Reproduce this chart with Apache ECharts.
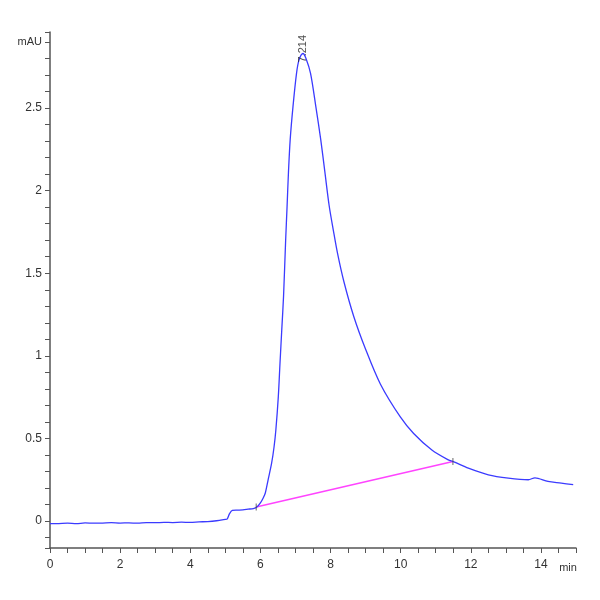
<!DOCTYPE html>
<html>
<head>
<meta charset="utf-8">
<script src="https://cdn.jsdelivr.net/npm/echarts@6/dist/echarts.min.js"></script>
<style>html,body{margin:0;padding:0;background:#fff}#c{width:600px;height:600px}</style>
</head>
<body>
<div id="c"></div>
<script>
// time (min)
const times = [0, 0.25, 0.5, 0.75, 1.0, 1.25, 1.5, 1.75, 2.0, 2.25, 2.5, 2.75, 3.0, 3.25, 3.5, 3.75, 4.0, 4.25, 4.5, 4.75,
  5.0, 5.05, 5.12, 5.2, 5.35, 5.5, 5.65, 5.8, 5.9, 6.0, 6.08, 6.14, 6.22, 6.32, 6.39, 6.44, 6.51, 6.56, 6.61, 6.66, 6.72, 6.76, 6.80, 6.85, 6.93, 7.03, 7.1, 7.214, 7.3, 7.43, 7.58, 7.72, 7.84, 7.96, 8.08, 8.2, 8.38, 8.66, 9.0, 9.42, 9.99, 10.37, 10.89, 11.36, 11.5, 11.93, 12.5, 13.07, 13.64, 13.83, 14.2, 14.58, 14.92];
// signal (mAU)
const signal = [-0.016, -0.015, -0.013, -0.016, -0.011, -0.013, -0.012, -0.010, -0.012, -0.011, -0.013, -0.009, -0.010, -0.008, -0.009, -0.007, -0.008, -0.005, -0.003, 0.002,
  0.010, 0.012, 0.045, 0.064, 0.066, 0.068, 0.072, 0.076, 0.085, 0.11, 0.14, 0.17, 0.25, 0.35, 0.45, 0.55, 0.75, 0.96, 1.16, 1.36, 1.70, 1.90, 2.11, 2.31, 2.51, 2.71, 2.79, 2.83, 2.80, 2.71, 2.51, 2.31, 2.11, 1.91, 1.76, 1.62, 1.45, 1.24, 1.04, 0.83, 0.63, 0.53, 0.43, 0.37, 0.36, 0.32, 0.28, 0.26, 0.25, 0.262, 0.24, 0.23, 0.22];
// integration baseline endpoints
const baseTimes = [5.88, 11.49];
const baseValues = [0.085, 0.36];
// peak
const peakTime = 7.214;
const peakValue = 2.83;
const peakLabel = '7.214';

const xTickLabels = ['0', '2', '4', '6', '8', '10', '12', '14'];

const mainData = times.map((t, i) => [t, signal[i]]);
const baseData = baseTimes.map((t, i) => [t, baseValues[i]]);

const font = "'Liberation Sans Narrow', 'Liberation Sans', Arial, sans-serif";
const chart = echarts.init(document.getElementById('c'));
chart.setOption({
  animation: false,
  backgroundColor: '#fff',
  grid: { left: 50, right: 24, top: 32, bottom: 52 },
  xAxis: {
    type: 'value', min: 0, max: 15, interval: 2,
    name: 'min', nameLocation: 'end', nameGap: -8,
    nameTextStyle: { color: '#333', fontFamily: font, fontSize: 11, align: 'center', verticalAlign: 'top', padding: [14, 0, 0, 0] },
    axisLine: { show: true, onZero: false, lineStyle: { color: '#555', width: 1.5 } },
    axisTick: { show: true, length: 5, lineStyle: { color: '#555' } },
    minorTick: { show: true, splitNumber: 4, length: 5, lineStyle: { color: '#555' } },
    splitLine: { show: false },
    axisLabel: { color: '#333', fontFamily: font, fontSize: 12, margin: 11, showMaxLabel: false,
      formatter: v => { const s = String(v); return xTickLabels.includes(s) ? s : ''; } }
  },
  yAxis: {
    type: 'value', min: -0.163, max: 2.96, splitNumber: 6,
    name: 'mAU', nameLocation: 'end', nameGap: -10,
    nameTextStyle: { color: '#333', fontFamily: font, fontSize: 11, align: 'right', verticalAlign: 'middle', padding: [0, 8, 0, 0] },
    axisLine: { show: true, onZero: false, lineStyle: { color: '#555', width: 1.5 } },
    axisTick: { show: true, length: 5, lineStyle: { color: '#555' } },
    minorTick: { show: true, splitNumber: 5, length: 5, lineStyle: { color: '#555' } },
    splitLine: { show: false },
    axisLabel: { color: '#333', fontFamily: font, fontSize: 12, margin: 8, showMinLabel: false, showMaxLabel: false }
  },
  series: [
    {
      type: 'line', data: baseData, symbol: 'none', silent: true,
      lineStyle: { color: '#ff44ff', width: 1.5 }, z: 2
    },
    {
      type: 'line', data: mainData, symbol: 'none', silent: true, smooth: 0.3,
      lineStyle: { color: '#3b3bff', width: 1.3 }, z: 3
    },
    {
      type: 'scatter', data: baseData, symbol: 'rect', symbolSize: [1, 7], silent: true,
      itemStyle: { color: '#444' }, z: 4
    },
    {
      type: 'scatter', data: [[peakTime, peakValue]], symbolSize: 0, silent: true, z: 5,
      label: { show: true, position: 'inside', formatter: peakLabel, rotate: 90, align: 'left', verticalAlign: 'middle',
        offset: [-9, 0], color: '#222', fontFamily: font, fontSize: 11 }
    }
  ]
});
</script>
</body>
</html>
